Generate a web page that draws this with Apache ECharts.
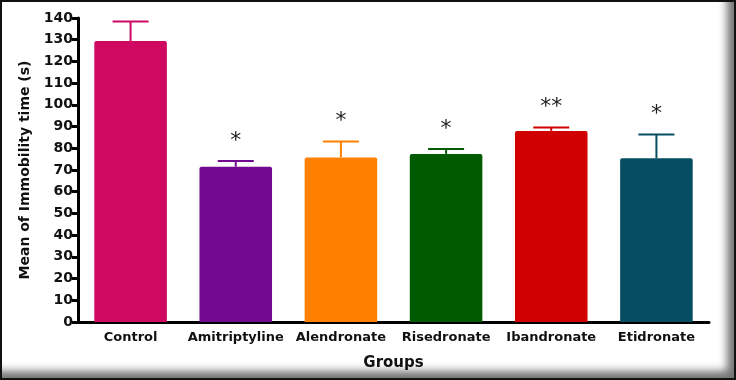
<!DOCTYPE html>
<html><head><meta charset="utf-8">
<script src="https://cdn.jsdelivr.net/npm/echarts@6/dist/echarts.min.js"></script>
<style>
html,body{margin:0;padding:0;background:#fff;}
#frame{position:absolute;left:0;top:0;width:736px;height:380px;box-sizing:border-box;border:2px solid #111;box-shadow:inset -9px -9px 8px -2px rgba(0,0,0,0.55);background:#fff;}
#c{position:absolute;left:0;top:0;width:736px;height:380px;}
</style></head>
<body><div id="frame"></div><div id="c"></div>
<script>
const categories = ['Control','Amitriptyline','Alendronate','Risedronate','Ibandronate','Etidronate'];
const means = [129.4, 71.5, 75.8, 77.4, 88.0, 75.4];
const sem = [9.0, 2.6, 7.3, 2.3, 1.6, 10.9];
const marks = ['', '*', '*', '*', '**', '*'];
const colors = ['#CF0862', '#730891', '#FF8000', '#005A00', '#D00000', '#054E62'];
const yTicks = [0,10,20,30,40,50,60,70,80,90,100,110,120,130,140];

const chart = echarts.init(document.getElementById('c'));
const font = 'DejaVu Sans, sans-serif';
chart.setOption({
  animation:false,
  grid:{left:78,right:27,top:18,bottom:58},
  xAxis:{type:'category',data:categories,name:'Groups',nameLocation:'middle',nameGap:34,
    nameTextStyle:{fontFamily:font,fontWeight:'bold',fontSize:15,color:'#111'},
    axisLine:{lineStyle:{color:'#000',width:3}},
    axisTick:{alignWithLabel:true,length:6,lineStyle:{color:'#000',width:3}},
    axisLabel:{interval:0,fontFamily:font,fontWeight:'bold',fontSize:13,color:'#111',margin:9}},
  yAxis:{type:'value',min:yTicks[0],max:yTicks[yTicks.length-1],interval:10,
    name:'Mean of Immobility time (s)',nameLocation:'middle',nameGap:46,
    nameTextStyle:{fontFamily:font,fontWeight:'bold',fontSize:14,color:'#111'},
    axisLine:{show:true,lineStyle:{color:'#000',width:3}},
    axisTick:{show:true,length:6,lineStyle:{color:'#000',width:3}},
    axisLabel:{fontFamily:font,fontWeight:'bold',fontSize:14,color:'#111',margin:5},
    splitLine:{show:false}},
  series:[
    {type:'bar',barWidth:'69%',z:2,
     data:means.map((v,i)=>({value:v,itemStyle:{color:colors[i],borderRadius:[2,2,0,0]}}))},
    {type:'custom',z:3,
     data:means.map((v,i)=>[i,v,sem[i]]),
     renderItem:function(params,api){
       const i=api.value(0);
       const p0=api.coord([i,api.value(1)]);
       const p1=api.coord([i,api.value(1)+api.value(2)]);
       const c=colors[i];
       const half=18;
       return {type:'group',children:[
         {type:'line',shape:{x1:p0[0],y1:p0[1],x2:p1[0],y2:p1[1]},style:{stroke:c,lineWidth:2}},
         {type:'line',shape:{x1:p1[0]-half,y1:p1[1],x2:p1[0]+half,y2:p1[1]},style:{stroke:c,lineWidth:2}},
         {type:'text',style:{text:marks[i],x:p1[0],y:p1[1]-20,textAlign:'center',textVerticalAlign:'middle',
           fontSize:22,fontFamily:'DejaVu Sans, sans-serif',fill:'#222'}}
       ]};
     }}
  ]
});
</script></body></html>
